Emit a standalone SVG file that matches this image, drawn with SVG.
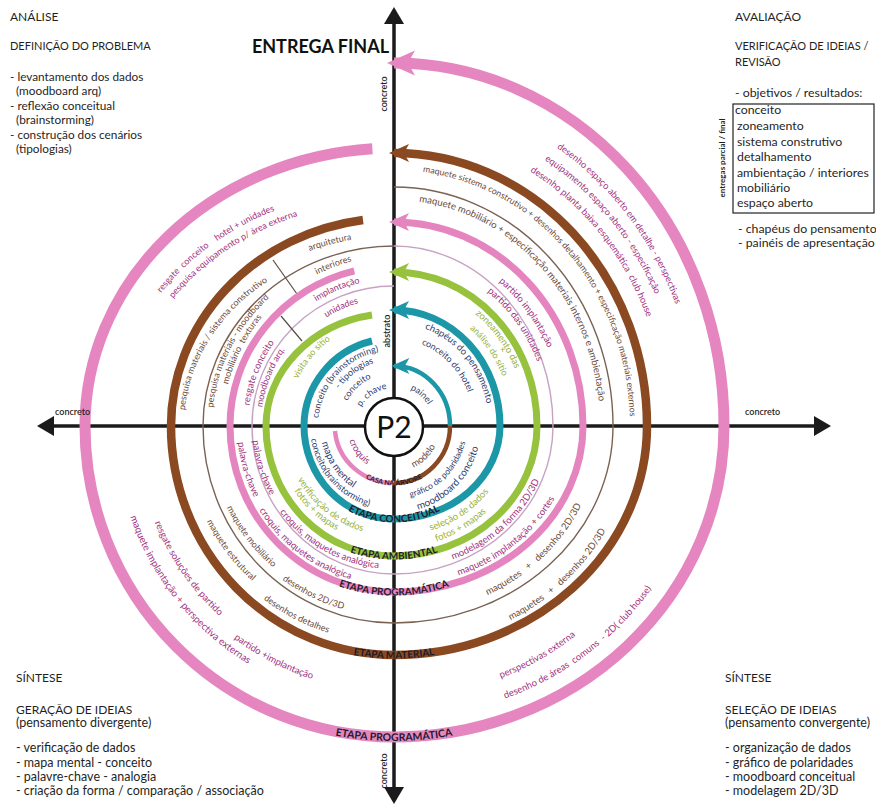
<svg xmlns="http://www.w3.org/2000/svg" width="876" height="806" viewBox="0 0 876 806">
<style>
text{font-family:Lato,"Open Sans","Liberation Sans",sans-serif}
.ax{stroke:#1b1b1b;stroke-width:3.5;fill:none}
.ring{fill:none}
.op{stroke:#e586c0;stroke-width:11}
.br{stroke:#8a4920;stroke-width:8.5}
.pk{stroke:#e585bf;stroke-width:7}
.gr{stroke:#97c23d;stroke-width:7}
.tl{stroke:#1b97a7;stroke-width:7}
.inr{stroke-width:4.5}
.thm{stroke:#c7a2c4;stroke-width:1.4;fill:none}
.thb{stroke:#7a6253;stroke-width:1.4;fill:none}
.div{stroke:#5a4a44;stroke-width:1.2}
.m{fill:#a1317e}.b{fill:#6a4a3b}.n{fill:#2e3b6e}.g{fill:#98b23a}
.stg{font-weight:700;fill:#1e1b2a}
.tl1{font-size:12px;fill:#1f1f1f}
.cap{font-size:11px;fill:#1f1f1f}
.low{font-size:11.8px;fill:#1f1f1f}
.capb{font-size:12px;fill:#1f1f1f}
.lowb{font-size:12.5px;fill:#1f1f1f}
.lowr{font-size:12.3px;fill:#1f1f1f}
.axl{font-size:9px;font-weight:600;fill:#1f1f1f}
</style>
<defs>
<marker id="aOP" viewBox="0 0 20 20" refX="15" refY="10" markerWidth="28" markerHeight="28" markerUnits="userSpaceOnUse" orient="auto"><path d="M0,1 L20,10 L0,19 L5,10 z" fill="#e586c0"/></marker>
<marker id="aBR" viewBox="0 0 20 20" refX="15" refY="10" markerWidth="20" markerHeight="20" markerUnits="userSpaceOnUse" orient="auto"><path d="M0,1 L20,10 L0,19 L5,10 z" fill="#8a4920"/></marker>
<marker id="aPK" viewBox="0 0 20 20" refX="15" refY="10" markerWidth="20" markerHeight="20" markerUnits="userSpaceOnUse" orient="auto"><path d="M0,1 L20,10 L0,19 L5,10 z" fill="#e585bf"/></marker>
<marker id="aGR" viewBox="0 0 20 20" refX="15" refY="10" markerWidth="20" markerHeight="20" markerUnits="userSpaceOnUse" orient="auto"><path d="M0,1 L20,10 L0,19 L5,10 z" fill="#97c23d"/></marker>
<marker id="aTL" viewBox="0 0 20 20" refX="15" refY="10" markerWidth="20" markerHeight="20" markerUnits="userSpaceOnUse" orient="auto"><path d="M0,1 L20,10 L0,19 L5,10 z" fill="#1b97a7"/></marker>
<marker id="aIN" viewBox="0 0 20 20" refX="17" refY="10" markerWidth="20" markerHeight="18" markerUnits="userSpaceOnUse" orient="auto"><path d="M0,1 L20,10 L0,19 L5,10 z" fill="#1b97a7"/></marker>

<path id="u1" d="M556.8,147.7 A303,330 0 0 1 692.4,368.7"/>
<path id="u2" d="M544.5,160 A288,312 0 0 1 679.2,382.6"/>
<path id="u3" d="M530,171.4 A272,294 0 0 1 663.4,385.1"/>
<path id="u4" d="M422.8,171.9 A236,256 0 0 1 629.1,448.3"/>
<path id="u5" d="M419.1,201.7 A206,226 0 0 1 599.2,445.7"/>
<path id="u6" d="M498.7,281.8 A170,183 0 0 1 561.4,394.2"/>
<path id="u7" d="M487.3,291.8 A155,168 0 0 1 548.4,411.4"/>
<path id="u8" d="M475.3,314.1 A132,142 0 0 1 525.5,413.6"/>
<path id="u9" d="M469.8,328.7 A118,127 0 0 1 511.8,419.4"/>
<path id="u10" d="M424.9,328.6 A95,103 0 0 1 488.9,420.6"/>
<path id="u11" d="M421.4,344.2 A80,87 0 0 1 473.7,418.4"/>
<path id="u12" d="M410.3,389.5 A40,40 0 0 1 433.4,419.1"/>

<path id="n1" d="M161,292.9 A281,238 0 0 1 345.2,191.6"/>
<path id="n2" d="M173.1,298.6 A268,225 0 0 1 356.7,203.2"/>
<path id="n3" d="M184.8,410.2 A210,181 0 0 1 289,269.2"/>
<path id="n4" d="M309.6,251.1 A216,190 0 0 1 386.5,236.1"/>
<path id="n5" d="M213,407.6 A182,176 0 0 1 303,273.6"/>
<path id="n6" d="M228.1,384.6 A171,171 0 0 1 295.9,285.9"/>
<path id="n7" d="M316.8,274.5 A170,170 0 0 1 388.1,256.1"/>
<path id="n8" d="M249.4,405.7 A146,146 0 0 1 300.2,314.2"/>
<path id="n9" d="M316.1,301.3 A147,147 0 0 1 381.2,279.6"/>
<path id="n10" d="M262.3,407.5 A133,133 0 0 1 308.5,324.1"/>
<path id="n11" d="M326.2,317.5 A128,128 0 0 1 378.4,299"/>
<path id="n12" d="M297.8,379.1 A107,107 0 0 1 348.8,329"/>
<path id="n13" d="M318.4,418.1 A76,76 0 0 1 390,350.1"/>
<path id="n14" d="M339.3,389.1 A66,66 0 0 1 382.5,361"/>
<path id="n15" d="M347.2,401.1 A53,53 0 0 1 384.8,373.8"/>
<path id="n16" d="M361.1,407 A38,38 0 0 1 390.7,388.1"/>

<path id="s1" d="M349.3,440.5 A47,47 0 0 0 385.8,472.3"/>
<path id="s2" d="M321.9,442.6 A74,74 0 0 0 383.7,499.3"/>
<path id="s3" d="M311,439.1 A84,84 0 0 0 386.7,509.7"/>
<path id="s4" d="M297.8,479.3 A110,110 0 0 0 390.2,535.9"/>
<path id="s5" d="M294.2,490.8 A119,119 0 0 0 377.4,543.8"/>
<path id="s6" d="M252.8,440.8 A142,142 0 0 0 293.6,526.4"/>
<path id="s7" d="M279.8,512.1 A143,143 0 0 0 399,568.9"/>
<path id="s8" d="M237.9,442.4 A157,157 0 0 0 283,537"/>
<path id="s9" d="M259.2,510.3 A159,159 0 0 0 388.5,584.9"/>
<path id="s10" d="M226.8,507.5 A186,186 0 0 0 287.3,578.4"/>
<path id="s11" d="M282.3,579.7 A190,190 0 0 0 367.6,614.2"/>
<path id="s12" d="M206.9,521.3 A210,210 0 0 0 273.5,598"/>
<path id="s13" d="M263.4,599.3 A217,217 0 0 0 363.8,640.9"/>
<path id="s14" d="M154.8,522.6 A258,258 0 0 0 257.3,644.8"/>
<path id="s15" d="M130.2,516.8 A279,279 0 0 0 276.1,678.9"/>
<path id="s16" d="M233.9,638.4 A266,266 0 0 0 357,689.4"/>

<path id="e1" d="M413.4,467.7 A46,46 0 0 0 439.8,430"/>
<path id="e2" d="M410.4,497.1 A73,73 0 0 0 467,428.5"/>
<path id="e3" d="M418,509.6 A87,87 0 0 0 480.9,429"/>
<path id="e4" d="M430.5,530.6 A118,110 0 0 0 510.2,445.1"/>
<path id="e5" d="M436.3,541.4 A130,122 0 0 0 519.6,457.6"/>
<path id="e6" d="M452.8,559.5 A157,144 0 0 0 549.5,446"/>
<path id="e7" d="M458.5,575.4 A180,160 0 0 0 572.3,448.3"/>
<path id="e8" d="M487.5,595.3 A206,190 0 0 0 596.9,459"/>
<path id="e9" d="M510.4,620.2 A240,222 0 0 0 630.4,464.5"/>
<path id="e10" d="M500.8,678.2 A285,272 0 0 0 652.3,540.9"/>
<path id="e11" d="M505.1,698.6 A310,292 0 0 0 693.4,501.6"/>

<path id="st1" d="M348.4,464.2 A59.5,59.5 0 0 0 439.6,464.2"/>
<path id="st2" d="M325.8,494.2 A96.5,96.5 0 0 0 462.2,494.2"/>
<path id="st3" d="M317.4,535.4 A133.5,133.5 0 0 0 470.6,535.4"/>
<path id="st4" d="M309.2,572.8 A169.5,169.5 0 0 0 478.8,572.8"/>
<path id="st5" d="M295.7,636.7 A232.5,232.5 0 0 0 492.3,636.7"/>
<path id="st6" d="M286.3,722 A315,315 0 0 0 501.7,722"/>
</defs>

<rect width="876" height="806" fill="#ffffff"/>

<g id="axes">
<path class="ax" d="M394,22 V790"/>
<path class="ax" d="M50,426 H818"/>
<polygon points="394,7 384,24 404,24" fill="#1b1b1b"/>
<polygon points="394,804 384,787 404,787" fill="#1b1b1b"/>
<polygon points="37,426 54,416 54,436" fill="#1b1b1b"/>
<polygon points="831,426 814,416 814,436" fill="#1b1b1b"/>
</g>

<g id="connectors">
<path class="thm" d="M394,286 A142,140 0 0 0 252,426 A142,148 0 0 0 394,574 A159,148 0 0 0 553,426 A159,180 0 0 0 394,246"/>
<path class="thb" d="M394,246 A191,180 0 0 0 203,426 A191,197 0 0 0 394,623 A219,197 0 0 0 613,426 A219,239 0 0 0 394,187"/>
<line class="div" x1="273" y1="260" x2="297" y2="294"/>
<line class="div" x1="281" y1="316" x2="302" y2="341"/>
<path class="ring op" d="M372.4,148.7 A309,278 0 0 0 85,426 A309,311 0 0 0 394,737 A330,311 0 0 0 724,426 A330,363 0 0 0 394,63" marker-end="url(#aOP)"/>
<path class="ring br" d="M363,220 A223,208 0 0 0 171,426 A223,229 0 0 0 394,655 A253,229 0 0 0 647,426 A253,273 0 0 0 394,153" marker-end="url(#aBR)"/>
<path class="ring pk" d="M354.3,270.8 A164,160 0 0 0 230,426 A164,166 0 0 0 394,592 A189,166 0 0 0 583,426 A189,204 0 0 0 394,222" marker-end="url(#aPK)"/>
<path class="ring gr" d="M372,315 A128,113 0 0 0 266,426 A128,130 0 0 0 394,556 A143,130 0 0 0 537,426 A143,154 0 0 0 394,272" marker-end="url(#aGR)"/>
<path class="ring tl" d="M372,341 A90,88 0 0 0 304,426 A90,93 0 0 0 394,519 A106,93 0 0 0 500,426 A106,116 0 0 0 394,310" marker-end="url(#aTL)"/>
<path class="ring inr" stroke="#e585bf" d="M335,431 A59,57 0 0 0 394,483"/>
<path class="ring inr" stroke="#8a4920" d="M394,483 A56,57 0 0 0 450,426"/>
<path class="ring inr" stroke="#1b97a7" d="M450,426 A56,60 0 0 0 394,366" marker-end="url(#aIN)"/>
</g>

<g id="center">
<circle cx="394" cy="427" r="29" fill="#fff" stroke="#111" stroke-width="2.5"/>
<text x="394" y="438" text-anchor="middle" font-size="30" fill="#111">P2</text>
</g>

<g id="stages">
<text class="stg" font-size="7"><textPath href="#st1" startOffset="50%" text-anchor="middle">CASA NA ÁRVORE</textPath></text>
<text class="stg" font-size="10"><textPath href="#st2" startOffset="50%" text-anchor="middle">ETAPA CONCEITUAL</textPath></text>
<text class="stg" font-size="10"><textPath href="#st3" startOffset="50%" text-anchor="middle">ETAPA AMBIENTAL</textPath></text>
<text class="stg" font-size="10"><textPath href="#st4" startOffset="50%" text-anchor="middle">ETAPA PROGRAMÁTICA</textPath></text>
<text class="stg" font-size="10"><textPath href="#st5" startOffset="50%" text-anchor="middle">ETAPA MATERIAL</textPath></text>
<text class="stg" font-size="10.5"><textPath href="#st6" startOffset="50%" text-anchor="middle">ETAPA PROGRAMÁTICA</textPath></text>
</g>

<g id="labels-ne">
<text class="m" font-size="9.2"><textPath href="#u1">desenho espaço aberto em detalhe - perspectivas</textPath></text>
<text class="m" font-size="9.3"><textPath href="#u2">equipamento espaço aberto - especificação</textPath></text>
<text class="m" font-size="9.4"><textPath href="#u3">desenho planta baixa esquemática&#160; club house</textPath></text>
<text class="b" font-size="8.8"><textPath href="#u4">maquete sistema construtivo + desenhos detalhamento + especificação materiais externos</textPath></text>
<text class="b" font-size="9.6"><textPath href="#u5">maquete mobiliário + especificação materiais internos e ambientação</textPath></text>
<text class="m" font-size="9.5"><textPath href="#u6">partido implantação</textPath></text>
<text class="m" font-size="9.5"><textPath href="#u7">partido das unidades</textPath></text>
<text class="g" font-size="9.5"><textPath href="#u8">zoneamento das</textPath></text>
<text class="g" font-size="9" x="500" y="353">+</text>
<text class="g" font-size="9"><textPath href="#u9">análise do sítio</textPath></text>
<text class="n" font-size="9.5"><textPath href="#u10">chapéus do pensamento</textPath></text>
<text class="n" font-size="9"><textPath href="#u11">conceito do hotel</textPath></text>
<text class="n" font-size="9"><textPath href="#u12">painel</textPath></text>
</g>

<g id="labels-nw">
<text class="m" font-size="9"><textPath href="#n1">resgate&#160; conceito&#160;&#160;&#160; hotel + unidades</textPath></text>
<text class="m" font-size="9"><textPath href="#n2">pesquisa equipamento p/ área externa</textPath></text>
<text class="b" font-size="9"><textPath href="#n3">pesquisa materiais / sistema construtivo</textPath></text>
<text class="b" font-size="9"><textPath href="#n4">arquitetura</textPath></text>
<text class="b" font-size="9"><textPath href="#n5">pesquisa materiais - moodboard</textPath></text>
<text class="b" font-size="9"><textPath href="#n6">mobiliário&#160; texturas</textPath></text>
<text class="b" font-size="9"><textPath href="#n7">interiores</textPath></text>
<text class="m" font-size="9.5"><textPath href="#n8">resgate conceito</textPath></text>
<text class="m" font-size="9"><textPath href="#n9">implantação</textPath></text>
<text class="m" font-size="9"><textPath href="#n10">moodboard arq.</textPath></text>
<text class="m" font-size="9"><textPath href="#n11">unidades</textPath></text>
<text class="g" font-size="9"><textPath href="#n12">visita ao sítio</textPath></text>
<text class="n" font-size="9"><textPath href="#n13">conceito (brainstorming)</textPath></text>
<text class="n" font-size="9"><textPath href="#n14">- tipologias</textPath></text>
<text class="n" font-size="9"><textPath href="#n15">conceito</textPath></text>
<text class="n" font-size="9"><textPath href="#n16">p. chave</textPath></text>
</g>

<g id="labels-sw">
<text class="m" font-size="9.5"><textPath href="#s1">croquis</textPath></text>
<text class="n" font-size="10"><textPath href="#s2">mapa mental</textPath></text>
<text class="n" font-size="9"><textPath href="#s3">conceito(brainstorming)</textPath></text>
<text class="g" font-size="9.5"><textPath href="#s4">verificação de dados</textPath></text>
<text class="g" font-size="9.5"><textPath href="#s5">fotos + mapas</textPath></text>
<text class="m" font-size="9.5"><textPath href="#s6">palavra-chave</textPath></text>
<text class="m" font-size="9.5"><textPath href="#s7">croquis, maquetes analógica</textPath></text>
<text class="m" font-size="9.5"><textPath href="#s8">palavra-chave</textPath></text>
<text class="m" font-size="9.5"><textPath href="#s9">croquis, maquetes analógica</textPath></text>
<text class="b" font-size="9"><textPath href="#s10">maquete mobiliário</textPath></text>
<text class="b" font-size="9"><textPath href="#s11">desenhos 2D/3D</textPath></text>
<text class="b" font-size="9"><textPath href="#s12">maquete estrutural</textPath></text>
<text class="b" font-size="9"><textPath href="#s13">desenhos detalhes</textPath></text>
<text class="m" font-size="9.5"><textPath href="#s14">resgate soluções de partido</textPath></text>
<text class="m" font-size="9.8"><textPath href="#s15">maquete implantação + perspectiva externas</textPath></text>
<text class="m" font-size="9.5"><textPath href="#s16">partido +implantação</textPath></text>
</g>

<g id="labels-se">
<text class="b" font-size="9.5"><textPath href="#e1">modelo</textPath></text>
<text class="n" font-size="8.5"><textPath href="#e2">gráfico de polaridades</textPath></text>
<text class="n" font-size="10"><textPath href="#e3">moodboard conceito</textPath></text>
<text class="g" font-size="9.5"><textPath href="#e4">seleção de dados</textPath></text>
<text class="g" font-size="9.5"><textPath href="#e5">fotos + mapas</textPath></text>
<text class="m" font-size="9.5"><textPath href="#e6">modelagem da forma 2D/3D</textPath></text>
<text class="m" font-size="9.5"><textPath href="#e7">maquete implantação + cortes</textPath></text>
<text class="b" font-size="9.5"><textPath href="#e8">maquetes&#160;&#160; +&#160;&#160; desenhos 2D/3D</textPath></text>
<text class="b" font-size="9.5"><textPath href="#e9">maquetes&#160;&#160; +&#160;&#160; desenhos 2D/3D</textPath></text>
<text class="m" font-size="9.5"><textPath href="#e10">perspectivas externa</textPath></text>
<text class="m" font-size="9.5"><textPath href="#e11">desenho de áreas&#160; comuns&#160; - 2D( club house)</textPath></text>
</g>

<g id="axis-labels">
<text class="axl" transform="translate(387,94) rotate(-90)" text-anchor="middle">concreto</text>
<text class="axl" transform="translate(390,331) rotate(-90)" text-anchor="middle" font-weight="700" font-size="9.5">abstrato</text>
<text class="axl" transform="translate(387,771) rotate(-90)" text-anchor="middle">concreto</text>
<text class="axl" x="55" y="415">concreto</text>
<text class="axl" x="745" y="415">concreto</text>
<text x="389" y="53" text-anchor="end" font-size="18" font-weight="700" fill="#111">ENTREGA FINAL</text>
</g>

<g id="analise">
<text class="tl1" x="10" y="21">ANÁLISE</text>
<text class="cap" x="10" y="50">DEFINIÇÃO DO PROBLEMA</text>
<text class="low" x="10" y="81">- levantamento dos dados</text>
<text class="low" x="16" y="95">(moodboard arq)</text>
<text class="low" x="10" y="110">- reflexão conceitual</text>
<text class="low" x="16" y="124">(brainstorming)</text>
<text class="low" x="10" y="139">- construção dos cenários</text>
<text class="low" x="16" y="153">(tipologias)</text>
</g>

<g id="avaliacao">
<text class="tl1" x="735" y="21">AVALIAÇÃO</text>
<text class="cap" x="735" y="50">VERIFICAÇÃO DE IDEIAS /</text>
<text class="cap" x="735" y="66">REVISÃO</text>
<text class="lowr" x="735" y="97">- objetivos / resultados:</text>
<rect x="733" y="104" width="141" height="109" fill="none" stroke="#222" stroke-width="1.2"/>
<text class="lowr" x="735" y="114">conceito</text>
<text class="lowr" x="737" y="130">zoneamento</text>
<text class="lowr" x="737" y="146">sistema construtivo</text>
<text class="lowr" x="737" y="161">detalhamento</text>
<text class="lowr" x="737" y="177">ambientação / interiores</text>
<text class="lowr" x="737" y="192">mobiliário</text>
<text class="lowr" x="737" y="207">espaço aberto</text>
<text transform="translate(725,158) rotate(-90)" text-anchor="middle" font-size="8" font-weight="700" fill="#1f1f1f">entregas parcial / final</text>
<text class="lowr" x="738" y="233">- chapéus do pensamento</text>
<text class="lowr" x="738" y="247">- painéis de apresentação</text>
</g>

<g id="sintese-div">
<text class="tl1" x="16" y="682">SÍNTESE</text>
<text class="capb" x="16" y="714">GERAÇÃO DE IDEIAS</text>
<text class="lowb" x="16" y="727">(pensamento divergente)</text>
<text class="lowb" x="16" y="752">- verificação de dados</text>
<text class="lowb" x="16" y="767">- mapa mental - conceito</text>
<text class="lowb" x="16" y="781">- palavre-chave - analogia</text>
<text class="lowb" x="16" y="795">- criação da forma / comparação / associação</text>
</g>

<g id="sintese-conv">
<text class="tl1" x="725" y="682">SÍNTESE</text>
<text class="capb" x="725" y="714">SELEÇÃO DE IDEIAS</text>
<text class="lowb" x="725" y="727">(pensamento convergente)</text>
<text class="lowb" x="725" y="752">- organização de dados</text>
<text class="lowb" x="725" y="767">- gráfico de polaridades</text>
<text class="lowb" x="725" y="781">- moodboard conceitual</text>
<text class="lowb" x="725" y="795">- modelagem 2D/3D</text>
</g>
</svg>
